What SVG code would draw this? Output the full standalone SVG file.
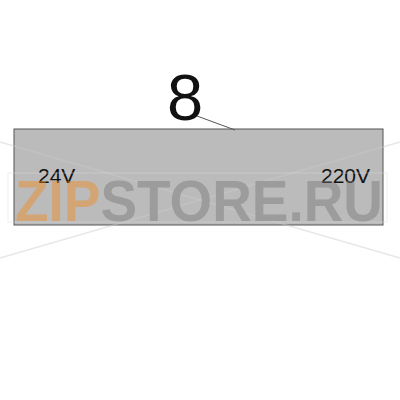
<svg xmlns="http://www.w3.org/2000/svg" width="400" height="400" viewBox="0 0 400 400">
<style>
.lbl{font-family:"Liberation Sans",Arial,sans-serif;fill:#111}
.wm{font-family:"Liberation Sans",Arial,sans-serif;font-weight:bold;font-size:58px}
</style>
<rect width="400" height="400" fill="#fff"/>
<g id="panel">
<rect x="14" y="129" width="369" height="96" fill="#bbbbbb" stroke="#555" stroke-width="1"/>
<text class="lbl" x="38" y="183" font-size="21">24V</text>
<text class="lbl" x="370" y="183" font-size="21" text-anchor="end">220V</text>
</g>
<g id="callout">
<text class="lbl" x="185" y="120" font-size="65" text-anchor="middle">8</text>
</g>
<g id="connectors">
<line x1="197" y1="116" x2="235" y2="130" stroke="#555" stroke-width="1"/>
</g>
<g id="watermark" opacity="0.45">
<line x1="0" y1="142" x2="200" y2="200" stroke="#ccc" stroke-width="1.5"/>
<line x1="400" y1="142" x2="200" y2="200" stroke="#ccc" stroke-width="1.5"/>
<line x1="0" y1="258" x2="200" y2="200" stroke="#ccc" stroke-width="1.5"/>
<line x1="400" y1="258" x2="200" y2="200" stroke="#ccc" stroke-width="1.5"/>
<rect x="8" y="173" width="379" height="49" fill="none" stroke="#ddd"/>
<text class="wm" x="15" y="221" textLength="368" lengthAdjust="spacingAndGlyphs"><tspan fill="#f08a20">ZIP</tspan><tspan fill="#777">STORE.RU</tspan></text>
</g>
</svg>
